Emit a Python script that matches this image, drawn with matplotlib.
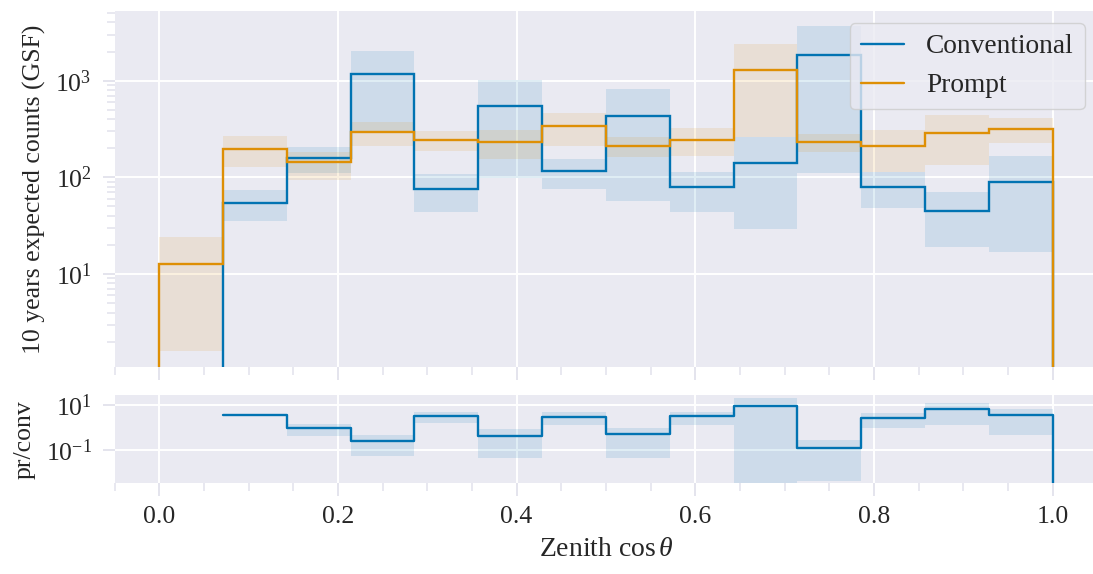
import numpy as np
import matplotlib
matplotlib.use("Agg")
import matplotlib.pyplot as plt
import seaborn as sns
from matplotlib.lines import Line2D
from matplotlib.ticker import LogLocator, MultipleLocator, NullLocator, NullFormatter

# ---- data -------------------------------------------------------------
bin_edges = np.linspace(0.0, 1.0, 15)

conv = np.array([0, 54, 158, 1175, 75, 547, 115, 434, 79, 142, 1860, 80, 45, 90], float)
conv_lo = np.array([np.nan, 35, 110, 300, 44, 98, 75, 57, 44, 29, 110, 48, 19, 17])
conv_hi = np.array([np.nan, 74, 208, 2030, 108, 1016, 155, 821, 114, 260, 3680, 114, 71, 166])

prompt = np.array([12.7, 197, 144, 294, 242, 232, 336, 213, 245, 1300, 231, 211, 286, 317], float)
prompt_lo = np.array([1.6, 129, 94, 211, 188, 155, 211, 164, 166, 264, 185, 114, 134, 225])
prompt_hi = np.array([24.2, 270, 185, 377, 302, 306, 468, 264, 324, 2400, 279, 309, 442, 411])

ratio_lo = np.array([np.nan, np.nan, 0.43, 0.056, 1.54, 0.046, 1.29, 0.046, 1.29, 0.001, 0.0042, 0.92, 1.29, 0.46])
ratio_hi = np.array([np.nan, np.nan, 1.43, 0.46, 5.0, 0.86, 4.74, 0.98, 5.0, 20.0, 0.278, 4.27, 11.9, 6.6])

series_labels = ["Conventional", "Prompt"]
x_label = r"Zenith $\cos\theta$"
y_label_top = "10 years expected counts (GSF)"
y_label_bottom = "pr/conv"

# ---- style ------------------------------------------------------------
sns.set_theme(style="darkgrid")
plt.rcParams["font.family"] = ["Liberation Serif", "DejaVu Serif"]
plt.rcParams["mathtext.fontset"] = "custom"
plt.rcParams["mathtext.rm"] = "Liberation Serif"
plt.rcParams["mathtext.it"] = "Liberation Serif:italic"
plt.rcParams["mathtext.bf"] = "Liberation Serif:bold"
plt.rcParams["axes.unicode_minus"] = True

BLUE = "#0173b2"
ORANGE = "#de8f05"
TICK_C = "#e2e2ec"
FS = 18.5
BAND_ALPHA = 0.12

fig = plt.figure(figsize=(10.93, 5.74), dpi=100)
ax = fig.add_axes([0.10485, 0.3611, 0.8990, 0.6197])
axr = fig.add_axes([0.10485, 0.158, 0.8990, 0.1538], sharex=ax)

widths = np.diff(bin_edges)
left = bin_edges[:-1]

# uncertainty bands
ax.bar(left, conv_hi - conv_lo, bottom=conv_lo, width=widths, align="edge",
       color=BLUE, alpha=BAND_ALPHA, linewidth=0, zorder=1)
ax.bar(left, prompt_hi - prompt_lo, bottom=prompt_lo, width=widths, align="edge",
       color=ORANGE, alpha=BAND_ALPHA, linewidth=0, zorder=1)

# step histograms
ax.stairs(conv, bin_edges, baseline=0, color=BLUE, lw=1.7, zorder=3)
ax.stairs(prompt, bin_edges, baseline=0, color=ORANGE, lw=1.7, zorder=4)

ax.set_yscale("log")
ax.set_xlim(-0.05, 1.05)
ax.set_ylim(1.1, 5250)
ax.yaxis.set_major_locator(LogLocator(base=10))
ax.yaxis.set_minor_locator(LogLocator(base=10, subs=np.arange(2, 10)))
ax.yaxis.set_minor_formatter(NullFormatter())
ax.set_ylabel(y_label_top, fontsize=FS, color=".15", labelpad=7)

handles = [Line2D([], [], color=BLUE, lw=1.7), Line2D([], [], color=ORANGE, lw=1.7)]
leg = ax.legend(handles, series_labels, loc="upper right", fontsize=FS + 1.2,
                handlelength=1.6, framealpha=0.8, borderaxespad=0.45)
for t in leg.get_texts():
    t.set_color(".15")

# ratio panel: prompt / conventional, step line ending on the baseline
ratio = np.divide(prompt, conv, out=np.full_like(prompt, np.nan), where=conv > 0)
axr.bar(left, ratio_hi - ratio_lo, bottom=ratio_lo, width=widths, align="edge",
        color=BLUE, alpha=BAND_ALPHA, linewidth=0, zorder=1)
axr.plot(bin_edges, np.append(ratio, 0.0), drawstyle="steps-post",
         color=BLUE, lw=1.7, zorder=3)
axr.set_yscale("log")
axr.set_ylim(0.0033, 27.8)
axr.set_yticks([0.1, 10])
axr.yaxis.set_minor_locator(NullLocator())
axr.set_ylabel(y_label_bottom, fontsize=FS, color=".15", labelpad=7)
axr.set_xlabel(x_label, fontsize=FS + 1.5, color=".15", labelpad=6)

for a in (ax, axr):
    a.xaxis.set_major_locator(MultipleLocator(0.2))
    a.xaxis.set_minor_locator(MultipleLocator(0.05))
    a.tick_params(which="both", direction="out", color=TICK_C, labelsize=FS,
                  labelcolor=".15", bottom=True, left=True)
    a.tick_params(which="major", length=9, width=1.3, pad=7.5)
    a.tick_params(which="minor", length=6, width=1.1)
    a.grid(True, which="major", color="white", lw=1.4)
    a.grid(False, which="minor")
    for s in a.spines.values():
        s.set_visible(False)

plt.setp(ax.get_xticklabels(), visible=False)
fig.align_ylabels([ax, axr])

fig.savefig("out.png", dpi=100)
